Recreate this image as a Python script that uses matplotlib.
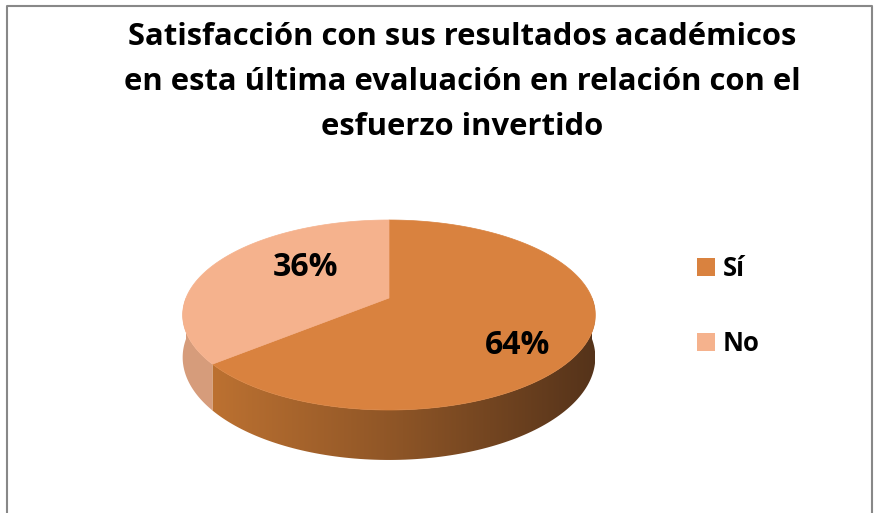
import numpy as np
import matplotlib.pyplot as plt
from matplotlib.patches import Polygon, Rectangle
from matplotlib.colors import LinearSegmentedColormap

# Datos de la encuesta
labels = ["Sí", "No"]
values = [64, 36]
colors = ["#D9823F", "#F5B28D"]
side_colors = ["#B96F30", "#D69C7B"]

titulo = ["Satisfacción con sus resultados académicos",
          "en esta última evaluación en relación con el",
          "esfuerzo invertido"]

# Geometría del pastel 3D (en píxeles de la figura)
cx, cy = 389, 298
scale = 203
sin_e = 0.453
cos_e = 0.89
k = 0.179
thick = 0.227


def proj(theta, r=1.0, h=0.0):
    # proyección en perspectiva de un punto del disco
    x = r * np.cos(theta)
    y = r * np.sin(theta)
    z = 1 + k * y
    X = cx + scale * x / z
    Y = cy - scale * (y * sin_e + h * cos_e) / z
    return X, Y


fig = plt.figure(figsize=(8.77, 5.13), dpi=100)
ax = fig.add_axes([0, 0, 1, 1])
ax.set_xlim(0, 877)
ax.set_ylim(513, 0)
ax.axis("off")

# marco del gráfico
ax.plot([7, 7, 872, 872], [513, 6, 6, 513], color="#888888", lw=1.5)

# ángulos de cada porción (empieza arriba, sentido horario)
fracs = np.array(values) / sum(values)
starts = 90 - 360 * np.concatenate([[0], np.cumsum(fracs)[:-1]])
ends = starts - 360 * fracs

# paredes laterales (sólo la mitad frontal, entre -180 y 0 grados, es visible)
cmap = LinearSegmentedColormap.from_list("lado", ["#BC7131", "#8C5426", "#55331A"])
for i in range(len(values)):
    t0, t1 = ends[i], starts[i]
    while t0 < -180:
        t0 += 360
        t1 += 360
    lo_d, hi_d = max(t0, -180), min(t1, 0)
    if hi_d <= lo_d:
        lo_d, hi_d = max(t0 - 360, -180), min(t1 - 360, 0)
    if hi_d <= lo_d:
        continue
    th = np.radians(np.linspace(lo_d, hi_d, 120))
    top = np.array([proj(t) for t in th])
    bot = np.array([proj(t, h=-thick) for t in th])[::-1]
    pts = np.vstack([top, bot])
    if i == 0:
        # degradado horizontal recortado a la pared
        poly = Polygon(pts, closed=True, facecolor="none", edgecolor="none")
        ax.add_patch(poly)
        x0, x1 = pts[:, 0].min(), pts[:, 0].max()
        y0, y1 = pts[:, 1].min(), pts[:, 1].max()
        grad = np.linspace(0, 1, 256).reshape(1, -1)
        im = ax.imshow(grad, cmap=cmap, extent=[x0, x1, y1, y0], aspect="auto", zorder=2)
        im.set_clip_path(poly)
    else:
        ax.add_patch(Polygon(pts, closed=True, facecolor=side_colors[i],
                             edgecolor="none", zorder=2))

# cara superior
for i in range(len(values)):
    th = np.radians(np.linspace(starts[i], ends[i], 200))
    arc = np.array([proj(t) for t in th])
    pts = np.vstack([[cx, cy], arc])
    ax.add_patch(Polygon(pts, closed=True, facecolor=colors[i],
                         edgecolor=colors[i], lw=0.5, zorder=3))

# etiquetas de porcentaje
label_pos = [(518, 345), (306, 267)]
for v, (lx, ly) in zip(values, label_pos):
    ax.text(lx, ly, f"{v / sum(values) * 100:.0f}%", ha="center", va="center",
            fontsize=23, fontweight="bold", family="Open Sans", color="black", zorder=5)

# leyenda
legend_y = [266.5, 342]
for lab, col, ly in zip(labels, colors, legend_y):
    ax.add_patch(Rectangle((697, ly - 9), 18, 18, facecolor=col, edgecolor="none"))
    ax.text(723, ly + 9, lab, ha="left", va="baseline", fontsize=18.5,
            fontweight="bold", family="Open Sans")

# título
for j, linea in enumerate(titulo):
    ax.text(462, 45 + 45 * j, linea, ha="center", va="baseline", fontsize=22.3,
            fontweight="bold", family="Open Sans")

fig.savefig("out.png", dpi=100)
